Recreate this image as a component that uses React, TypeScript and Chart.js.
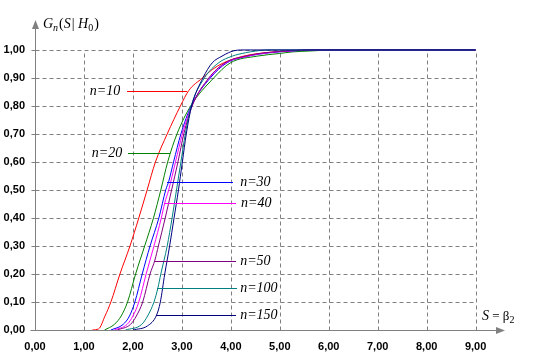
import React, { useEffect, useRef } from "react";
import { Chart, registerables } from "chart.js";

Chart.register(...registerables);

// ---------- data ----------
const SAMPLE_SIZES = [10, 20, 30, 40, 50, 100, 150];
const SERIES_COLORS = ["#FF0000", "#008000", "#0000FF", "#FF00FF", "#800080", "#008080", "#000080"];

const S_N10 = [1.17, 1.3, 1.43, 1.55, 1.735, 1.94, 2.12, 2.29, 2.46, 2.7, 2.97, 3.14, 3.42, 3.62, 3.85, 4.26, 4.7, 5.2, 5.8, 9.0];
const G_N10 = [0, 0.004, 0.05, 0.1, 0.2, 0.3, 0.4, 0.5, 0.6, 0.7, 0.8, 0.855, 0.9, 0.93, 0.954, 0.978, 0.99, 0.997, 1.0, 1.0];

const S_N20 = [1.42, 1.62, 1.76, 1.89, 2.055, 2.24, 2.42, 2.57, 2.71, 2.9, 3.18, 3.65, 3.99, 4.54, 5.0, 5.25, 5.58, 6.14, 9.0];
const G_N20 = [0, 0.02, 0.05, 0.1, 0.2, 0.3, 0.4, 0.5, 0.6, 0.7, 0.8, 0.9, 0.954, 0.978, 0.9875, 0.993, 0.996, 1.0, 1.0];

const S_N30 = [1.55, 1.8, 1.93, 2.04, 2.19, 2.35, 2.53, 2.67, 2.73, 2.83, 2.98, 3.19, 3.58, 3.92, 4.36, 4.8, 5.3, 5.8, 9.0];
const G_N30 = [0, 0.02, 0.05, 0.1, 0.2, 0.3, 0.4, 0.5, 0.53, 0.6, 0.7, 0.8, 0.9, 0.954, 0.978, 0.99, 0.997, 1.0, 1.0];

const S_N40 = [1.62, 1.88, 2.0, 2.12, 2.27, 2.43, 2.58, 2.65, 2.73, 2.87, 3.01, 3.2, 3.56, 3.9, 4.34, 4.75, 5.25, 5.7, 9.0];
const G_N40 = [0, 0.02, 0.05, 0.1, 0.2, 0.3, 0.4, 0.454, 0.5, 0.6, 0.7, 0.8, 0.9, 0.954, 0.978, 0.99, 0.997, 1.0, 1.0];

const S_N50 = [1.68, 1.95, 2.07, 2.2, 2.35, 2.45, 2.52, 2.66, 2.79, 2.92, 3.04, 3.21, 3.55, 3.88, 4.3, 4.7, 5.2, 5.6, 9.0];
const G_N50 = [0, 0.02, 0.05, 0.1, 0.2, 0.25, 0.3, 0.4, 0.5, 0.6, 0.7, 0.8, 0.9, 0.954, 0.978, 0.99, 0.997, 1.0, 1.0];

const S_N100 = [1.85, 2.18, 2.3, 2.43, 2.51, 2.57, 2.7, 2.8, 2.89, 2.98, 3.07, 3.19, 3.46, 3.75, 4.03, 4.3, 4.5, 4.75, 9.0];
const G_N100 = [0, 0.02, 0.05, 0.1, 0.15, 0.2, 0.3, 0.4, 0.5, 0.6, 0.7, 0.8, 0.9, 0.954, 0.978, 0.99, 0.996, 1.0, 1.0];

const S_N150 = [2.0, 2.3, 2.48, 2.56, 2.65, 2.75, 2.84, 2.93, 3.01, 3.09, 3.2, 3.43, 3.62, 3.82, 3.95, 4.06, 4.2, 9.0];
const G_N150 = [0, 0.015, 0.052, 0.1, 0.2, 0.3, 0.4, 0.5, 0.6, 0.7, 0.8, 0.9, 0.954, 0.978, 0.99, 0.997, 1.0, 1.0];

const S_VALUES = [S_N10, S_N20, S_N30, S_N40, S_N50, S_N100, S_N150];
const G_VALUES = [G_N10, G_N20, G_N30, G_N40, G_N50, G_N100, G_N150];

const X_TICKS = [0, 1, 2, 3, 4, 5, 6, 7, 8, 9];
const Y_TICKS = [0, 0.1, 0.2, 0.3, 0.4, 0.5, 0.6, 0.7, 0.8, 0.9, 1.0];
const X_MAX = 9.6;
const Y_MAX = 1.107;

// series labels (data units): text start x, leader line from/to x, y
const LABEL_X = [1.12, 1.16, 4.19, 4.21, 4.19, 4.19, 4.19];
const LEADER_FROM = [1.88, 1.9, 2.7, 2.63, 2.45, 2.49, 2.47];
const LEADER_TO = [3.1, 2.76, 4.04, 4.11, 4.11, 4.13, 4.11];
const LEADER_Y = [0.854, 0.632, 0.53, 0.454, 0.2464, 0.15, 0.052];

const fmt = (v: number) => v.toFixed(2).replace(".", ",");

const SERIF = '"Liberation Serif", "Times New Roman", serif';

function drawRich(ctx: CanvasRenderingContext2D, x: number, y: number, parts: { t: string; f: string; dy?: number; gap?: number }[]) {
  let cx = x;
  ctx.textBaseline = "alphabetic";
  ctx.textAlign = "left";
  for (const p of parts) {
    ctx.font = p.f;
    ctx.fillText(p.t, cx, y + (p.dy || 0));
    cx += ctx.measureText(p.t).width + (p.gap || 0);
  }
}

const overlayPlugin = {
  id: "overlay",
  beforeDatasetsDraw(chart: any) {
    const { ctx, scales, chartArea } = chart;
    const xs = scales.x;
    const ys = scales.y;
    const px = (v: number) => Math.round(xs.getPixelForValue(v)) + 0.5;
    const py = (v: number) => Math.round(ys.getPixelForValue(v)) + 0.5;
    const x0 = px(0);
    const x9 = px(X_TICKS[X_TICKS.length - 1]);
    const y0 = py(0);
    const y1 = py(Y_TICKS[Y_TICKS.length - 1]);
    ctx.save();
    ctx.strokeStyle = "#808080";
    ctx.lineWidth = 1;
    ctx.setLineDash([4, 3]);
    ctx.beginPath();
    for (const v of X_TICKS) {
      if (v === 0) continue;
      ctx.moveTo(px(v), y0);
      ctx.lineTo(px(v), y1);
    }
    for (const v of Y_TICKS) {
      if (v === 0) continue;
      ctx.moveTo(x0, py(v));
      ctx.lineTo(x9, py(v));
    }
    ctx.stroke();
    ctx.setLineDash([]);
    // axes
    const tipX = chartArea.right;
    const tipY = chartArea.top;
    ctx.beginPath();
    ctx.moveTo(x0 - 5, y0);
    ctx.lineTo(tipX - 4, y0);
    ctx.moveTo(x0, y0);
    ctx.lineTo(x0, tipY + 4);
    for (const v of Y_TICKS) {
      if (v === 0) continue;
      ctx.moveTo(x0 - 4, py(v));
      ctx.lineTo(x0, py(v));
    }
    ctx.stroke();
    ctx.fillStyle = "#808080";
    ctx.beginPath();
    ctx.moveTo(tipX, y0);
    ctx.lineTo(tipX - 9, y0 - 3.5);
    ctx.lineTo(tipX - 9, y0 + 3.5);
    ctx.closePath();
    ctx.fill();
    ctx.beginPath();
    ctx.moveTo(x0, tipY);
    ctx.lineTo(x0 - 3.5, tipY + 9);
    ctx.lineTo(x0 + 3.5, tipY + 9);
    ctx.closePath();
    ctx.fill();
    ctx.restore();
  },
  afterDatasetsDraw(chart: any) {
    const { ctx, scales } = chart;
    const xs = scales.x;
    const ys = scales.y;
    ctx.save();
    ctx.lineWidth = 1;
    SAMPLE_SIZES.forEach((n, i) => {
      const yy = Math.round(ys.getPixelForValue(LEADER_Y[i])) + 0.5;
      ctx.strokeStyle = SERIES_COLORS[i];
      ctx.beginPath();
      ctx.moveTo(Math.round(xs.getPixelForValue(LEADER_FROM[i])), yy);
      ctx.lineTo(Math.round(xs.getPixelForValue(LEADER_TO[i])), yy);
      ctx.stroke();
      ctx.fillStyle = "#000";
      ctx.font = `italic 14px ${SERIF}`;
      ctx.textBaseline = "middle";
      ctx.textAlign = "left";
      ctx.fillText(`n=${n}`, xs.getPixelForValue(LABEL_X[i]), yy);
    });
    ctx.restore();
  },
  afterDraw(chart: any) {
    const { ctx, scales, chartArea } = chart;
    const x0 = scales.x.getPixelForValue(0);
    const y0 = scales.y.getPixelForValue(0);
    ctx.save();
    ctx.fillStyle = "#000";
    drawRich(ctx, x0 + 8, chartArea.top + 8, [
      { t: "G", f: `italic 14px ${SERIF}` },
      { t: "n", f: `italic 10px ${SERIF}`, dy: 3, gap: 1 },
      { t: "(", f: `14px ${SERIF}` },
      { t: "S", f: `italic 14px ${SERIF}`, gap: 1 },
      { t: "| ", f: `14px ${SERIF}` },
      { t: "H", f: `italic 14px ${SERIF}` },
      { t: "0", f: `10px ${SERIF}`, dy: 3, gap: 1 },
      { t: ")", f: `14px ${SERIF}` },
    ]);
    drawRich(ctx, chartArea.right - 23, y0 - 10, [
      { t: "S", f: `italic 14px ${SERIF}` },
      { t: " = ", f: `13px ${SERIF}` },
      { t: "β", f: `13px ${SERIF}` },
      { t: "2", f: `10px ${SERIF}`, dy: 3 },
    ]);
    ctx.restore();
  },
};

export default function App() {
  const canvasRef = useRef<HTMLCanvasElement | null>(null);

  useEffect(() => {
    if (!canvasRef.current) return;
    const datasets = SAMPLE_SIZES.map((n, i) => ({
      label: `n=${n}`,
      data: S_VALUES[i].map((s, j) => ({ x: s, y: G_VALUES[i][j] })),
      borderColor: SERIES_COLORS[i],
      backgroundColor: SERIES_COLORS[i],
      borderWidth: 1,
      pointRadius: 0,
      fill: false,
      cubicInterpolationMode: "monotone" as const,
      order: SAMPLE_SIZES.length - 1 - i,
    }));
    const tickFont = { family: '"Liberation Sans", Arial, sans-serif', size: 11, weight: "bold" as const };
    const chart = new Chart(canvasRef.current, {
      type: "line",
      data: { datasets },
      plugins: [overlayPlugin],
      options: {
        animation: false,
        responsive: false,
        devicePixelRatio: 1,
        layout: { padding: { top: 20, right: 35, left: 0, bottom: 0 } },
        plugins: { legend: { display: false }, tooltip: { enabled: false } },
        scales: {
          x: {
            type: "linear",
            min: 0,
            max: X_MAX,
            grid: { display: false, drawTicks: false },
            border: { display: false },
            afterBuildTicks: (scale: any) => {
              scale.ticks = X_TICKS.map((v) => ({ value: v }));
            },
            afterFit: (scale: any) => {
              scale.height = 30;
            },
            ticks: {
              autoSkip: false,
              maxRotation: 0,
              padding: 10,
              color: "#000",
              font: tickFont,
              callback: (v: any) => fmt(Number(v)),
            },
          },
          y: {
            type: "linear",
            min: 0,
            max: Y_MAX,
            grid: { display: false, drawTicks: false },
            border: { display: false },
            afterBuildTicks: (scale: any) => {
              scale.ticks = Y_TICKS.map((v) => ({ value: v }));
            },
            afterFit: (scale: any) => {
              scale.width = 35;
            },
            ticks: {
              autoSkip: false,
              padding: 10,
              color: "#000",
              font: tickFont,
              callback: (v: any) => fmt(Number(v)),
            },
          },
        },
      },
    });
    return () => chart.destroy();
  }, []);

  return (
    <div style={{ position: "fixed", left: 0, top: 0, width: 540, height: 360, background: "#fff" }}>
      <canvas ref={canvasRef} width={540} height={360} style={{ display: "block", width: 540, height: 360 }} />
    </div>
  );
}
